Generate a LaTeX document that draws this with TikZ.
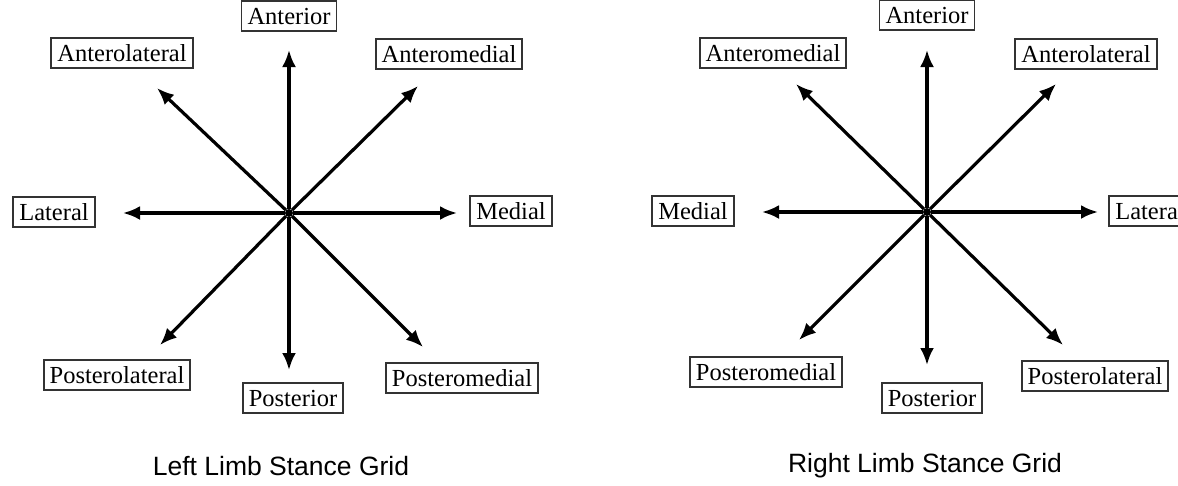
\documentclass[tikz,border=0pt]{standalone}
\usepackage{fontspec}
\setmainfont{Liberation Serif}
\newfontfamily\gridcaptionfont{Liberation Sans}
\usetikzlibrary{arrows.meta}

\begin{document}
\begin{tikzpicture}[x=1pt, y=-1pt,
        dirbox/.style={draw=black!80, line width=1.8pt, inner xsep=6pt, inner ysep=6pt,
            text height=17pt, text depth=1pt, font=\fontsize{24.5}{26}\selectfont},
        hub/.style={circle, inner sep=0pt, minimum size=8pt, fill},
        ray/.style={line width=3.2pt, -{Latex[length=17pt, width=14pt]}},
        gridcaption/.style={font=\gridcaptionfont\fontsize{26.5}{29}\selectfont}]
        \useasboundingbox (0,0) rectangle (1178,485);

        % left limb
        \node[hub] (lc) at (289, 213) {};
        \node[dirbox] (lant) at (289, 16) {Anterior};
        \node[dirbox] (lal) at (122, 53) {Anterolateral};
        \node[dirbox] (lam) at (449, 54) {Anteromedial};
        \node[dirbox] (llat) at (54, 212) {Lateral};
        \node[dirbox] (lmed) at (511, 211) {Medial};
        \node[dirbox] (lpl) at (117, 375) {Posterolateral};
        \node[dirbox] (lpost) at (293, 398) {Posterior};
        \node[dirbox] (lpm) at (462, 378) {Posteromedial};

        \coordinate (lantend) at (289, 50);
        \coordinate (lalend) at (157, 88);
        \coordinate (lamend) at (418, 86);
        \coordinate (llatend) at (123, 213);
        \coordinate (lmedend) at (457, 213);
        \coordinate (lplend) at (160, 345);
        \coordinate (lpostend) at (289, 370);
        \coordinate (lpmend) at (423, 347);

        \draw[ray] (lc) -- (lantend);
        \draw[ray] (lc) -- (lalend);
        \draw[ray] (lc) -- (lamend);
        \draw[ray] (lc) -- (llatend);
        \draw[ray] (lc) -- (lmedend);
        \draw[ray] (lc) -- (lplend);
        \draw[ray] (lc) -- (lpostend);
        \draw[ray] (lc) -- (lpmend);

        \node[gridcaption] (lcap) at (281, 466) {Left Limb Stance Grid};

        % right limb
        \node[hub] (rc) at (927, 212) {};
        \node[dirbox] (rant) at (927, 15) {Anterior};
        \node[dirbox] (ram) at (773, 53) {Anteromedial};
        \node[dirbox] (ral) at (1086, 54) {Anterolateral};
        \node[dirbox] (rmed) at (693, 211) {Medial};
        \node[dirbox] (rlat) at (1150, 211) {Lateral};
        \node[dirbox] (rpm) at (766, 372) {Posteromedial};
        \node[dirbox] (rpost) at (932, 398) {Posterior};
        \node[dirbox] (rpl) at (1095, 376) {Posterolateral};

        \coordinate (rantend) at (927, 50);
        \coordinate (ramend) at (796, 84);
        \coordinate (ralend) at (1056, 84);
        \coordinate (rmedend) at (762, 212);
        \coordinate (rlatend) at (1098, 212);
        \coordinate (rpmend) at (799, 340);
        \coordinate (rpostend) at (927, 365);
        \coordinate (rplend) at (1063, 345);

        \draw[ray] (rc) -- (rantend);
        \draw[ray] (rc) -- (ramend);
        \draw[ray] (rc) -- (ralend);
        \draw[ray] (rc) -- (rmedend);
        \draw[ray] (rc) -- (rlatend);
        \draw[ray] (rc) -- (rpmend);
        \draw[ray] (rc) -- (rpostend);
        \draw[ray] (rc) -- (rplend);

        \node[gridcaption] (rcap) at (925, 466) {Right Limb Stance Grid};
    \end{tikzpicture}
\end{document}
